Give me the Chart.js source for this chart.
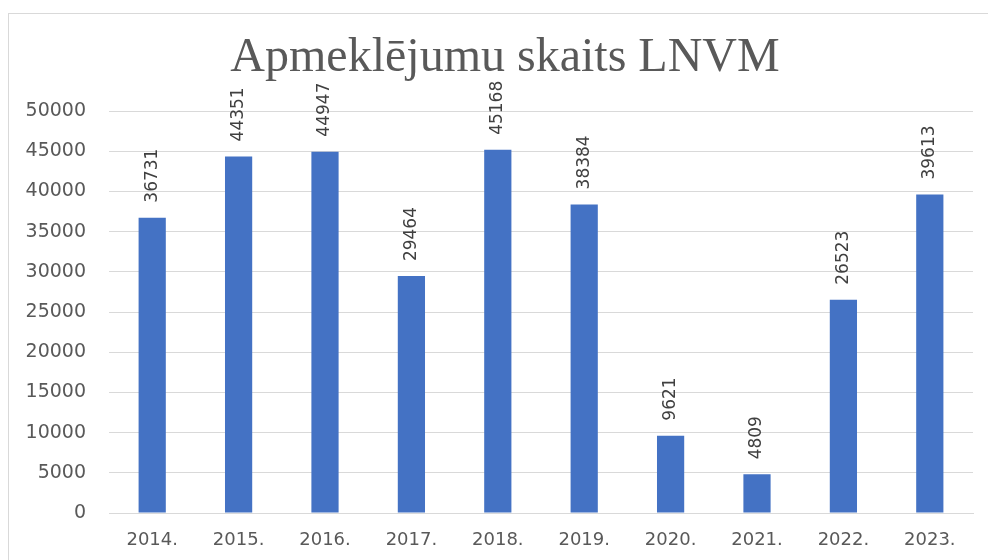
<!DOCTYPE html>
<html>
<head>
<meta charset="utf-8">
<script src="https://cdn.jsdelivr.net/npm/chart.js@4.4.1/dist/chart.umd.min.js"></script>
<style>
  html, body { margin: 0; padding: 0; background: #ffffff; }
  #wrap { position: relative; width: 988px; height: 560px; overflow: hidden; }
  #frame { position: absolute; left: 8px; top: 13px; width: 990px; height: 600px; border: 1px solid #d9d9d9; box-sizing: border-box; }
  canvas { position: absolute; left: 0; top: 0; }
</style>
</head>
<body>
<div id="wrap">
  <div id="frame"></div>
  <canvas id="c" width="988" height="560"></canvas>
</div>
<script>
const chartTitle = "Apmeklējumu skaits LNVM";
const categories = ["2014.", "2015.", "2016.", "2017.", "2018.", "2019.", "2020.", "2021.", "2022.", "2023."];
const visits = [36731, 44351, 44947, 29464, 45168, 38384, 9621, 4809, 26523, 39613];
const yTicks = [0, 5000, 10000, 15000, 20000, 25000, 30000, 35000, 40000, 45000, 50000];

const barLabels = {
  id: 'barLabels',
  afterDatasetsDraw(chart) {
    const ctx = chart.ctx;
    const meta = chart.getDatasetMeta(0);
    ctx.save();
    ctx.font = '17px "DejaVu Sans"';
    ctx.fillStyle = '#404040';
    ctx.textAlign = 'left';
    ctx.textBaseline = 'middle';
    meta.data.forEach((bar, i) => {
      ctx.save();
      ctx.translate(bar.x, bar.y - 15);
      ctx.rotate(-Math.PI / 2);
      ctx.fillText(String(chart.data.datasets[0].data[i]), 0, 0);
      ctx.restore();
    });
    ctx.restore();
  }
};

const titleText = {
  id: 'titleText',
  afterDraw(chart) {
    const ctx = chart.ctx;
    ctx.save();
    ctx.font = '48px "Liberation Serif", "Times New Roman", serif';
    ctx.fillStyle = '#595959';
    ctx.textAlign = 'center';
    ctx.textBaseline = 'alphabetic';
    ctx.fillText(chartTitle, 505, 71);
    ctx.restore();
  }
};

new Chart(document.getElementById('c'), {
  type: 'bar',
  data: {
    labels: categories,
    datasets: [{
      data: visits,
      backgroundColor: '#4472C4',
      categoryPercentage: 1.0,
      barPercentage: 0.315
    }]
  },
  options: {
    responsive: false,
    animation: false,
    layout: { padding: { left: 0, right: 15, top: 111, bottom: 0 } },
    plugins: {
      legend: { display: false },
      tooltip: { enabled: false },
      title: { display: false }
    },
    scales: {
      x: {
        grid: { display: false, drawTicks: false },
        border: { display: true, color: '#d9d9d9' },
        ticks: { color: '#595959', font: { family: '"DejaVu Sans"', size: 18 }, padding: 17, maxRotation: 0 },
        afterFit(scale) { scale.height = 47; }
      },
      y: {
        min: 0,
        max: 50000,
        afterBuildTicks(scale) { scale.ticks = yTicks.map(v => ({ value: v })); },
        grid: { color: '#d9d9d9', drawTicks: false },
        border: { display: false },
        ticks: {
          color: '#595959',
          font: { family: '"DejaVu Sans"', size: 19 },
          padding: 23,
          callback: (v) => String(v)
        },
        afterFit(scale) { scale.width = 109; }
      }
    }
  },
  plugins: [barLabels, titleText]
});
</script>
</body>
</html>
